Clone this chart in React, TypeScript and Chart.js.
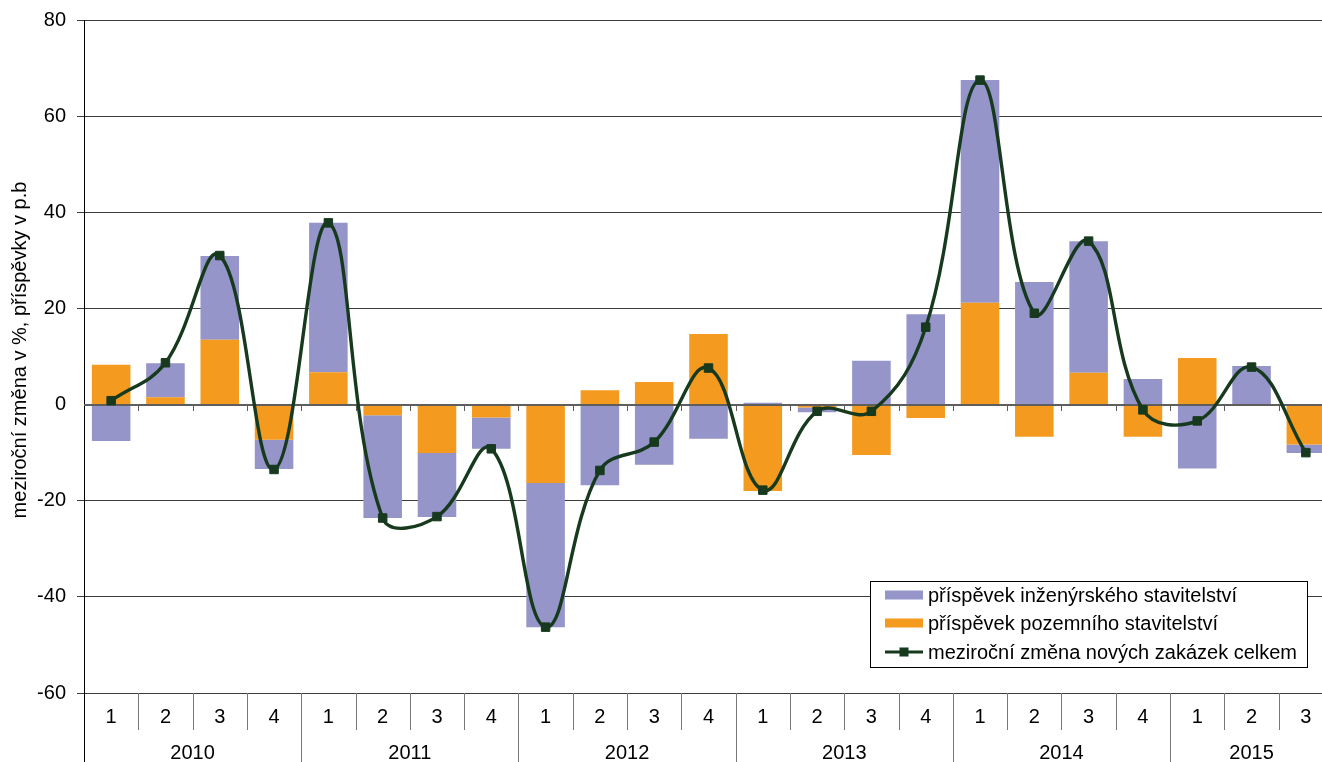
import React, { useEffect, useRef } from 'react';
import { Chart, registerables } from 'chart.js';

Chart.register(...registerables);

// ---- data ----
const quarters = ['1', '2', '3', '4', '1', '2', '3', '4', '1', '2', '3', '4', '1', '2', '3', '4', '1', '2', '3', '4', '1', '2', '3'];
const years = ['2010', '2011', '2012', '2013', '2014', '2015'];
const quartersPerYear = [4, 4, 4, 4, 4, 3];

const pozemni = [8.3, 1.5, 13.5, -7.3, 6.7, -2.2, -10.1, -2.7, -16.3, 3.0, 4.7, 14.7, -18.0, -0.6, -10.5, -2.8, 21.2, -6.7, 6.6, -6.7, 9.7, -0.3, -8.3];
const inzenyrske = [-7.6, 7.1, 17.4, -6.1, 31.1, -21.4, -13.3, -6.5, -30.0, -16.8, -12.5, -7.1, 0.4, -1.0, 9.1, 18.8, 46.3, 25.5, 27.4, 5.3, -13.3, 8.0, -1.8];
const celkem = [0.8, 8.7, 31.0, -13.5, 37.8, -23.6, -23.3, -9.2, -46.3, -13.7, -7.8, 7.6, -17.8, -1.4, -1.4, 16.1, 67.5, 19.0, 34.0, -1.1, -3.4, 7.8, -10.0];

const legendLabels = ['příspěvek inženýrského stavitelství', 'příspěvek pozemního stavitelství', 'meziroční změna nových zakázek celkem'];
const yTitle = 'meziroční změna v %, příspěvky v p.b';
const yMin = -60;
const yMax = 80;
const yStep = 20;

// ---- style ----
const FONT = "'Liberation Sans', Arial, sans-serif";
const BLUE = '#9595C9';
const ORANGE = '#F39A1F';
const GREEN = '#173A1E';
const TICK_SIZE = 20;
const TITLE_SIZE = 20;
const LEGEND_SIZE = 20;

const decor = {
  id: 'decor',
  beforeDatasetDraw(chart: any, args: any) {
    if (args.index !== 2) return;
    const { ctx, chartArea, scales } = chart;
    const y0 = Math.round(scales.y.getPixelForValue(0));
    const n = quarters.length;
    const w = (chartArea.right - chartArea.left) / n;
    ctx.save();
    ctx.strokeStyle = '#5e5e5e';
    ctx.lineWidth = 2;
    ctx.beginPath();
    ctx.moveTo(chartArea.left, y0);
    ctx.lineTo(chartArea.right, y0);
    ctx.stroke();
    ctx.lineWidth = 1;
    ctx.beginPath();
    for (let i = 1; i < n; i++) {
      const x = Math.round(chartArea.left + i * w) + 0.5;
      ctx.moveTo(x, y0);
      ctx.lineTo(x, y0 + 6);
    }
    ctx.stroke();
    ctx.restore();
  },
  afterDraw(chart: any) {
    const { ctx, chartArea, scales } = chart;
    const n = quarters.length;
    const w = (chartArea.right - chartArea.left) / n;
    const bottom = chartArea.bottom;
    const H = chart.height;
    ctx.save();
    // category boundaries
    const yearBounds = new Set<number>();
    let acc = 0;
    yearBounds.add(0);
    quartersPerYear.forEach((c) => { acc += c; yearBounds.add(acc); });
    ctx.lineWidth = 1;
    for (let i = 0; i <= n; i++) {
      const x = Math.round(chartArea.left + i * w) + 0.5;
      ctx.strokeStyle = i === 0 ? '#000' : '#777';
      ctx.beginPath();
      ctx.moveTo(x, bottom);
      ctx.lineTo(x, yearBounds.has(i) ? H : bottom + 37);
      ctx.stroke();
    }
    // quarter labels
    ctx.fillStyle = '#000';
    ctx.font = `${TICK_SIZE}px ${FONT}`;
    ctx.textAlign = 'center';
    ctx.textBaseline = 'middle';
    for (let i = 0; i < n; i++) {
      ctx.fillText(quarters[i], scales.x.getPixelForValue(i), bottom + 24);
    }
    // year labels
    let start = 0;
    years.forEach((yr, k) => {
      const end = start + quartersPerYear[k];
      const x = chartArea.left + ((start + end) / 2) * w;
      ctx.fillText(yr, x, bottom + 60);
      start = end;
    });
    // y title
    ctx.save();
    ctx.translate(20, 350);
    ctx.rotate(-Math.PI / 2);
    ctx.font = `${TITLE_SIZE}px ${FONT}`;
    ctx.fillText(yTitle, 0, 0);
    ctx.restore();
    // legend
    const lx = 870.5, ly = 581.5, lw = 437, lh = 86;
    ctx.fillStyle = '#fff';
    ctx.fillRect(lx, ly, lw, lh);
    ctx.strokeStyle = '#000';
    ctx.lineWidth = 1;
    ctx.strokeRect(lx, ly, lw, lh);
    const rows = [595, 623, 652];
    ctx.font = `${LEGEND_SIZE}px ${FONT}`;
    ctx.textAlign = 'left';
    ctx.textBaseline = 'middle';
    ctx.fillStyle = BLUE;
    ctx.fillRect(885, rows[0] - 4.5, 38, 9);
    ctx.fillStyle = ORANGE;
    ctx.fillRect(885, rows[1] - 4.5, 38, 9);
    ctx.strokeStyle = GREEN;
    ctx.lineWidth = 3;
    ctx.beginPath();
    ctx.moveTo(885, rows[2]);
    ctx.lineTo(923, rows[2]);
    ctx.stroke();
    ctx.fillStyle = GREEN;
    ctx.fillRect(904 - 4.5, rows[2] - 4.5, 9, 9);
    ctx.fillStyle = '#000';
    legendLabels.forEach((t, i) => ctx.fillText(t, 928, rows[i] + 1));
    ctx.restore();
  },
};

export default function App() {
  const ref = useRef<HTMLCanvasElement>(null);
  useEffect(() => {
    if (!ref.current) return;
    const chart = new Chart(ref.current, {
      type: 'bar',
      data: {
        labels: quarters.map((q, i) => `${i}-${q}`),
        datasets: [
          {
            label: legendLabels[1],
            data: pozemni,
            backgroundColor: ORANGE,
            borderWidth: 0,
            stack: 'bars',
            order: 1,
            barPercentage: 0.71,
            categoryPercentage: 1,
          },
          {
            label: legendLabels[0],
            data: inzenyrske,
            backgroundColor: BLUE,
            borderWidth: 0,
            stack: 'bars',
            order: 1,
            barPercentage: 0.71,
            categoryPercentage: 1,
          },
          {
            type: 'line',
            label: legendLabels[2],
            data: celkem,
            borderColor: GREEN,
            backgroundColor: GREEN,
            borderWidth: 3.4,
            tension: 0.4,
            pointStyle: 'rect',
            pointRadius: 6,
            pointBorderWidth: 1,
            pointBackgroundColor: GREEN,
            pointBorderColor: GREEN,
            stack: 'line',
            order: 0,
            fill: false,
          } as any,
        ],
      },
      options: {
        responsive: false,
        animation: false,
        devicePixelRatio: 1,
        layout: { padding: { left: 0, right: 6, top: 20, bottom: 0 } },
        plugins: {
          legend: { display: false },
          tooltip: { enabled: false },
          title: { display: false },
        },
        scales: {
          x: {
            stacked: true,
            offset: true,
            grid: { display: false },
            border: { display: false },
            ticks: { display: false },
            afterFit: (s: any) => { s.height = 69; s.paddingLeft = 0; s.paddingRight = 0; },
          },
          y: {
            stacked: true,
            min: yMin,
            max: yMax,
            ticks: {
              stepSize: yStep,
              color: '#000',
              font: { family: FONT, size: TICK_SIZE },
              padding: 11,
            },
            grid: {
              color: (c: any) => (c.tick && c.tick.value === 0 ? 'rgba(0,0,0,0)' : '#3c3c3c'),
              lineWidth: 1,
              tickLength: 7,
              drawTicks: true,
            },
            border: { display: true, color: '#000', width: 1 },
            afterFit: (s: any) => { s.width = 84; s.paddingTop = 0; s.paddingBottom = 0; },
          },
        },
      },
      plugins: [decor],
    } as any);
    return () => chart.destroy();
  }, []);
  return (
    <div style={{ position: 'fixed', left: 0, top: 0, width: 1322, height: 762, overflow: 'hidden', background: '#fff' }}>
      <canvas ref={ref} width={1340} height={762} style={{ display: 'block', width: 1340, height: 762 }} />
    </div>
  );
}
